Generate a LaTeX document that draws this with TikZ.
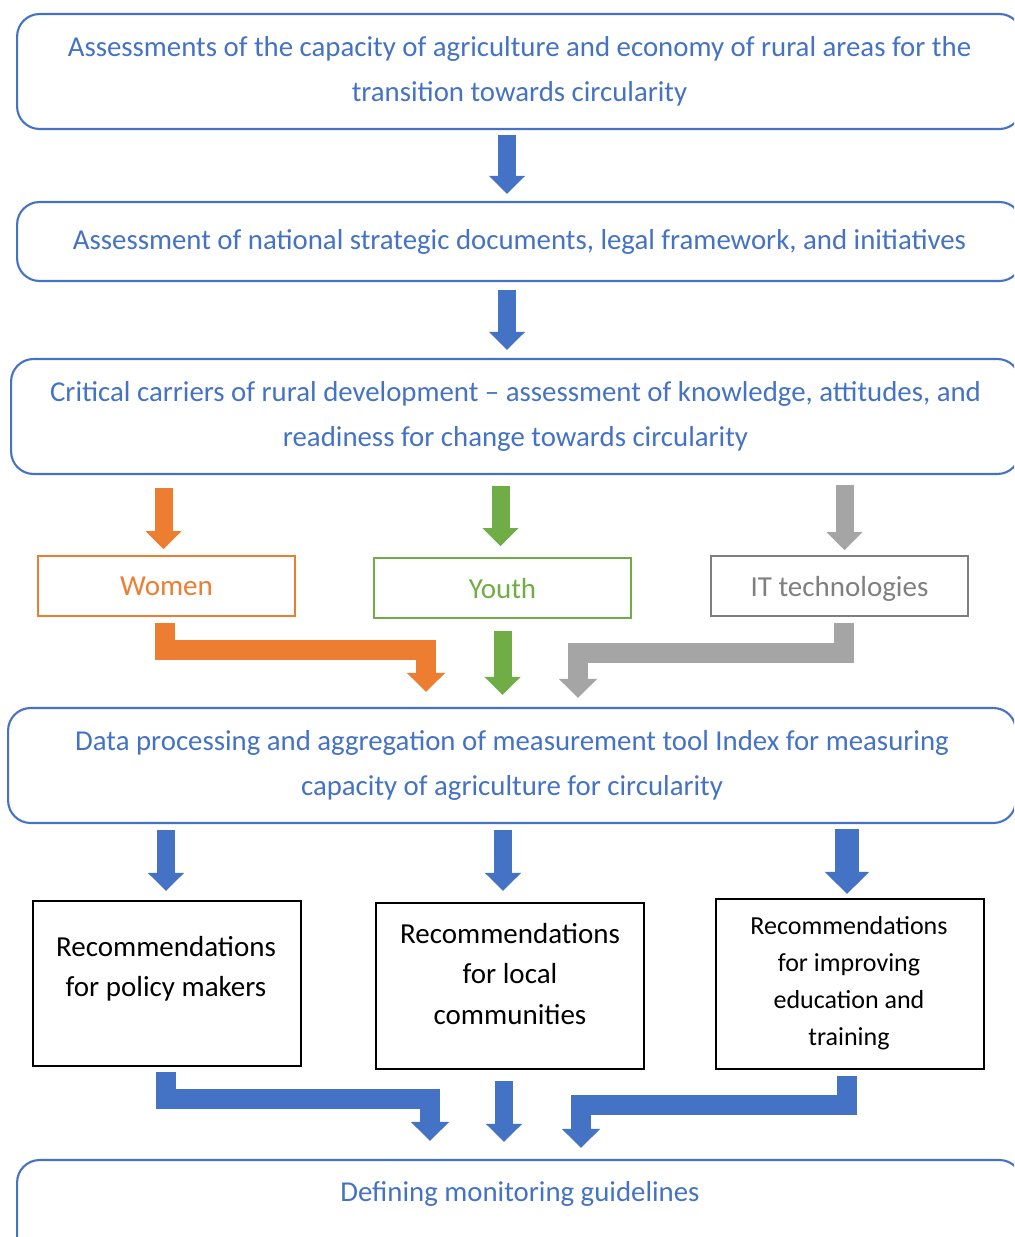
\documentclass[tikz,border=0pt]{standalone}
\usepackage{fontspec}
\setmainfont{Carlito}
\usetikzlibrary{arrows.meta,calc}
\definecolor{boxblue}{HTML}{4472C4}
\definecolor{womenorange}{HTML}{ED7D31}
\definecolor{youthgreen}{HTML}{70AD47}
\definecolor{itgray}{HTML}{A5A5A5}
\definecolor{itdark}{HTML}{7F7F7F}
\tikzset{
  bluebox/.style={draw=boxblue,line width=1.2pt,rounded corners=0.45cm,
    text=boxblue,align=center,minimum width=20.1cm,minimum height=2.3cm,
    font=\fontsize{16.4}{25.5}\selectfont},
  groupbox/.style={draw=#1,line width=1pt,text=#1,minimum width=5.14cm,
    minimum height=1.2cm,text depth=0pt,
    font=\fontsize{16.5}{20}\selectfont},
  recbox/.style={draw=black,line width=1.2pt,minimum width=5.36cm},
  rectext/.style={align=center,font=\fontsize{16.5}{23}\selectfont},
  blockarrow/.style={draw=#1,line width=0.36cm,
    -{Triangle[width=0.7cm,length=0.36cm]}},
  elbowarrow/.style={draw=#1,line width=0.4cm,line join=miter,
    -{Triangle[width=0.74cm,length=0.38cm]}}
}
\begin{document}
\begin{tikzpicture}[x=0.02cm,y=-0.02cm]
\useasboundingbox (0,0) rectangle (1014,1237);
\clip (0,0) rectangle (1014,1237);
% stages
\node[bluebox] (b1) at (519.5,71.5)
  {Assessments of the capacity of agriculture and economy of rural areas for the\\
   transition towards circularity};
\node[bluebox,minimum height=1.58cm] (b2) at (519.5,241.5)
  {Assessment of national strategic documents, legal framework, and initiatives};
\node[bluebox,minimum width=20.18cm] (b3) at (515.5,416.5)
  {Critical carriers of rural development -- assessment of knowledge, attitudes, and\\
   readiness for change towards circularity};
\node[groupbox=womenorange] (women) at (166.5,586) {Women};
\node[groupbox=youthgreen] (youth) at (502.5,588) {Youth};
\node[groupbox=itdark] (itech) at (839.5,586) {IT technologies};
\node[bluebox,minimum width=20.16cm] (b4) at (512,765.5)
  {Data processing and aggregation of measurement tool Index for measuring\\
   capacity of agriculture for circularity};
% recommendations
\node[recbox,minimum height=3.3cm] (policy) at (167,983.5) {};
\node[rectext] (policytext) at (166,969) {Recommendations\\for policy makers};
\node[recbox,minimum height=3.32cm] (local) at (510,986) {};
\node[rectext] (localtext) at (510,974) {Recommendations\\for local\\communities};
\node[recbox,minimum height=3.4cm] (educ) at (850,984) {};
\node[rectext,font=\fontsize{14.8}{21}\selectfont] (eductext) at (849,983)
  {Recommendations\\for improving\\education and\\training};
\node[bluebox,minimum height=2.6cm] (b5) at (519.5,1225) {};
\node[text=boxblue,font=\fontsize{16.4}{25.5}\selectfont] (b5text) at (520,1194)
  {Defining monitoring guidelines};
% arrows
\draw[blockarrow=boxblue] ($(507,0 |- b1.south)+(0,5)$) -- ($(507,0 |- b2.north)+(0,-7)$);
\draw[blockarrow=boxblue] ($(507,0 |- b2.south)+(0,8)$) -- ($(507,0 |- b3.north)+(0,-8)$);
\draw[blockarrow=womenorange] ($(b3.south -| women.north)+(-3,13)$) -- ($(women.north)+(-3,-6)$);
\draw[blockarrow=youthgreen] ($(b3.south -| youth.north)+(-2,11)$) -- ($(youth.north)+(-2,-11)$);
\draw[blockarrow=itgray] ($(b3.south -| itech.north)+(5,10)$) -- ($(itech.north)+(5,-5)$);
\draw[elbowarrow=womenorange] ($(women.south)+(-2,6)$) |- ($(b4.north)+(-86,-57)$)
  -- ($(b4.north)+(-86,-15)$);
\draw[blockarrow=youthgreen] ($(youth.south)+(0,12)$) -- ($(youth.south |- b4.north)+(0,-12)$);
\draw[elbowarrow=itgray] ($(itech.south)+(4.5,6)$) |- ($(b4.north)+(66,-54)$)
  -- ($(b4.north)+(66,-9)$);
\draw[blockarrow=boxblue] ($(b4.south -| policy.north)+(-1,6)$) -- ($(policy.north)+(-1,-9)$);
\draw[blockarrow=boxblue] ($(b4.south -| local.north)+(-7,6)$) -- ($(local.north)+(-7,-11)$);
\draw[blockarrow=boxblue,line width=0.48cm,-{Triangle[width=0.86cm,length=0.44cm]}]
  ($(b4.south -| educ.north)+(-3,5)$) -- ($(educ.north)+(-3,-4)$);
\draw[elbowarrow=boxblue] ($(policy.south)+(-1,5)$) |- ($(b5.north)+(-89.5,-60)$)
  -- ($(b5.north)+(-89.5,-18)$);
\draw[blockarrow=boxblue] ($(local.south)+(-6,11)$) -- ($(local.south |- b5.north)+(-6,-17)$);
\draw[elbowarrow=boxblue] ($(educ.south)+(-3,6)$) |- ($(b5.north)+(61.5,-54)$)
  -- ($(b5.north)+(61.5,-11)$);
\end{tikzpicture}
\end{document}
